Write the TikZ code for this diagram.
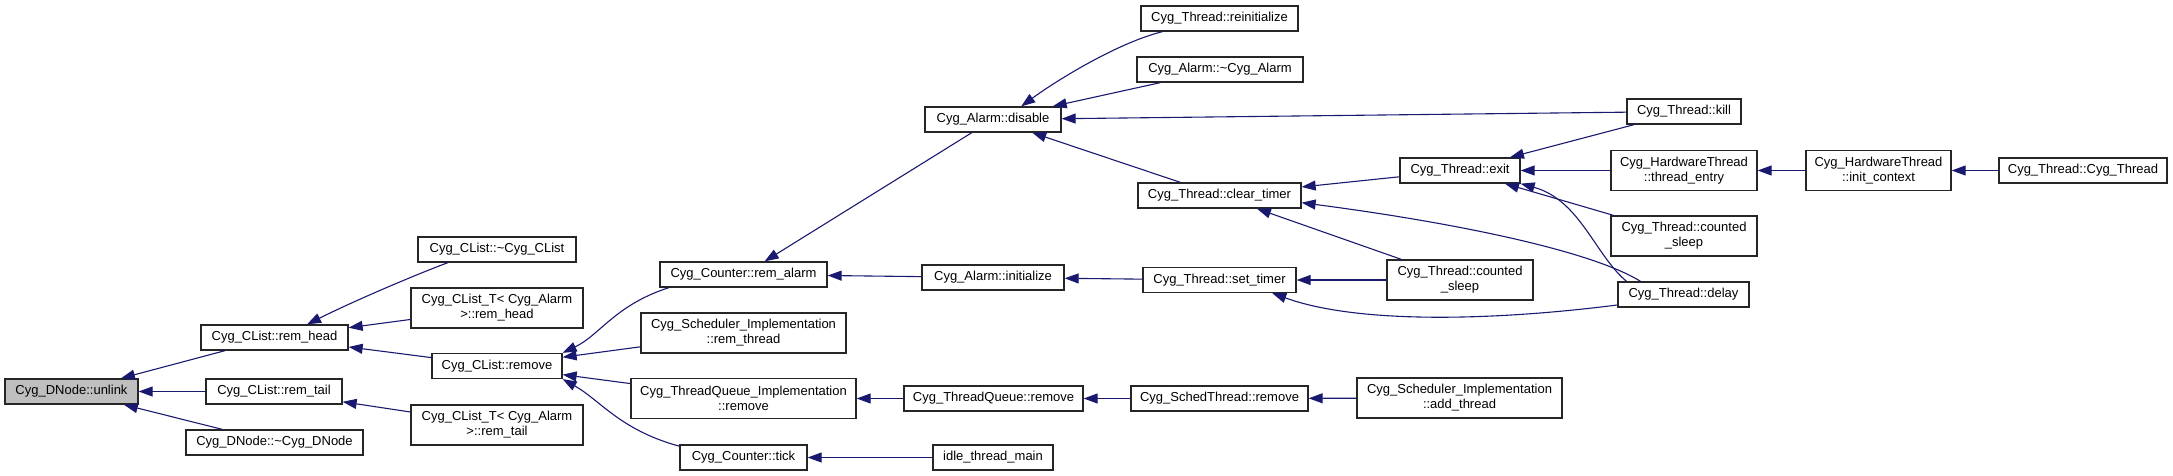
\documentclass[tikz,border=0pt]{standalone}
\usepackage{fontspec}
\setmainfont{Liberation Sans}
\usetikzlibrary{arrows.meta}
\definecolor{edgeblue}{HTML}{191970}

\begin{document}
\begin{tikzpicture}[
    x=1pt, y=-1pt,
    every node/.style={
            rectangle,
            draw=black!85,
            line width=1.3pt,
            inner sep=0pt,
            minimum height=25pt,
            align=center,
            font=\fontsize{13}{15}\selectfont
        },
    twoline/.style={minimum height=40pt},
    current/.style={fill=black!25},
    call/.style={draw=edgeblue, line width=1.1pt, -{Triangle[length=14pt, width=10pt]}},
    ]
    \useasboundingbox (0,0) rectangle (2173,476);

    % --- Column 1 ---
    \node[current, minimum width=133pt] (unlink) at (71.5,391.5) {Cyg\_DNode::unlink};

    % --- Column 2 ---
    \node[minimum width=147pt] (remhead) at (274.5,337.5) {Cyg\_CList::rem\_head};
    \node[minimum width=136pt] (remtail) at (274,391.5) {Cyg\_CList::rem\_tail};
    \node[minimum width=177pt] (dnodedtor) at (274.5,442.5) {Cyg\_DNode::\textasciitilde Cyg\_DNode};

    % --- Column 3 ---
    \node[minimum width=158pt] (clistdtor) at (497,249.5) {Cyg\_CList::\textasciitilde Cyg\_CList};
    \node[twoline, minimum width=172pt] (clistTremhead) at (497,308) {Cyg\_CList\_T< Cyg\_Alarm\\>::rem\_head};
    \node[minimum width=130pt] (clistremove) at (497,366) {Cyg\_CList::remove};
    \node[twoline, minimum width=172pt] (clistTremtail) at (497,425) {Cyg\_CList\_T< Cyg\_Alarm\\>::rem\_tail};

    % --- Column 4 ---
    \node[minimum width=167pt] (remalarm) at (743.5,274.5) {Cyg\_Counter::rem\_alarm};
    \node[twoline, minimum width=205pt] (remthread) at (743.5,333) {Cyg\_Scheduler\_Implementation\\::rem\_thread};
    \node[twoline, minimum width=225pt] (tqimplremove) at (743.5,398.5) {Cyg\_ThreadQueue\_Implementation\\::remove};
    \node[minimum width=127pt] (tick) at (743.5,457.5) {Cyg\_Counter::tick};

    % --- Column 5 ---
    \node[minimum width=136pt] (disable) at (993,119.5) {Cyg\_Alarm::disable};
    \node[minimum width=142pt] (initialize) at (993,277.5) {Cyg\_Alarm::initialize};
    \node[minimum width=179pt] (tqremove) at (993.5,398.5) {Cyg\_ThreadQueue::remove};
    \node[minimum width=120pt] (idlemain) at (993,457.5) {idle\_thread\_main};

    % --- Column 6 ---
    \node[minimum width=157pt] (reinit) at (1219.5,18.5) {Cyg\_Thread::reinitialize};
    \node[minimum width=166pt] (alarmdtor) at (1220,69.5) {Cyg\_Alarm::\textasciitilde Cyg\_Alarm};
    \node[minimum width=163pt] (cleartimer) at (1219.5,195.5) {Cyg\_Thread::clear\_timer};
    \node[minimum width=153pt] (settimer) at (1219.5,280) {Cyg\_Thread::set\_timer};
    \node[minimum width=177pt] (schedremove) at (1219.5,398.5) {Cyg\_SchedThread::remove};

    % --- Column 7 ---
    \node[minimum width=120pt] (exit) at (1460,170.5) {Cyg\_Thread::exit};
    \node[twoline, minimum width=146pt] (sleepA) at (1460,280) {Cyg\_Thread::counted\\\_sleep};
    \node[twoline, minimum width=205pt] (addthread) at (1459.5,398) {Cyg\_Scheduler\_Implementation\\::add\_thread};

    % --- Column 8 ---
    \node[minimum width=114pt] (kill) at (1684,111.5) {Cyg\_Thread::kill};
    \node[twoline, minimum width=146pt] (threadentry) at (1684,170.5) {Cyg\_HardwareThread\\::thread\_entry};
    \node[twoline, minimum width=146pt] (sleepB) at (1684,236) {Cyg\_Thread::counted\\\_sleep};
    \node[minimum width=131pt] (delay) at (1683.5,294.5) {Cyg\_Thread::delay};

    % --- Columns 9 and 10 ---
    \node[twoline, minimum width=145pt] (initcontext) at (1878.5,170.5) {Cyg\_HardwareThread\\::init\_context};
    \node[minimum width=168pt] (cygthread) at (2083,170.5) {Cyg\_Thread::Cyg\_Thread};

    % --- Calls into the list code ---
    \draw[call] (remhead) -- (unlink);
    \draw[call] (remtail) -- (unlink);
    \draw[call] (dnodedtor) -- (unlink);
    \draw[call] (clistdtor.195) .. controls (425,271) and (360,298) .. (remhead.22);
    \draw[call] (clistTremhead) -- (remhead);
    \draw[call] (clistremove) -- (remhead);
    \draw[call] (clistTremtail) -- (remtail);
    \draw[call] (remalarm.190) .. controls (615,305) and (600,335) .. (clistremove.north east);
    \draw[call] (remthread) -- (clistremove);
    \draw[call] (tqimplremove) -- (clistremove);
    \draw[call] (tick.170) .. controls (620,430) and (600,400) .. (clistremove.south east);

    % --- Alarms and queues ---
    \draw[call] (disable) -- (remalarm);
    \draw[call] (initialize) -- (remalarm);
    \draw[call] (tqremove) -- (tqimplremove);
    \draw[call] (idlemain) -- (tick);
    \draw[call] (reinit.193) .. controls (1120,42) and (1060,78) .. (disable.25);
    \draw[call] (alarmdtor) -- (disable);
    \draw[call] (kill) -- (disable);
    \draw[call] (cleartimer) -- (disable);
    \draw[call] (settimer) -- (initialize);
    \draw[call] (schedremove) -- (tqremove);

    % --- Thread calls ---
    \draw[call] (exit) -- (cleartimer);
    \draw[call] (sleepA) -- (cleartimer);
    \draw[call] (delay.163) .. controls (1590,250) and (1450,222) .. (cleartimer.-5);
    \draw[call] (sleepA) -- (settimer);
    \draw[call] (delay.189) .. controls (1500,320) and (1360,325) .. (settimer.-14);
    \draw[call] (addthread) -- (schedremove);
    \draw[call] (kill) -- (exit);
    \draw[call] (threadentry) -- (exit);
    \draw[call] (sleepB) -- (exit);
    \draw[call] (delay.167) .. controls (1595,255) and (1580,200) .. (exit.south east);
    \draw[call] (initcontext) -- (threadentry);
    \draw[call] (cygthread) -- (initcontext);

\end{tikzpicture}
\end{document}
